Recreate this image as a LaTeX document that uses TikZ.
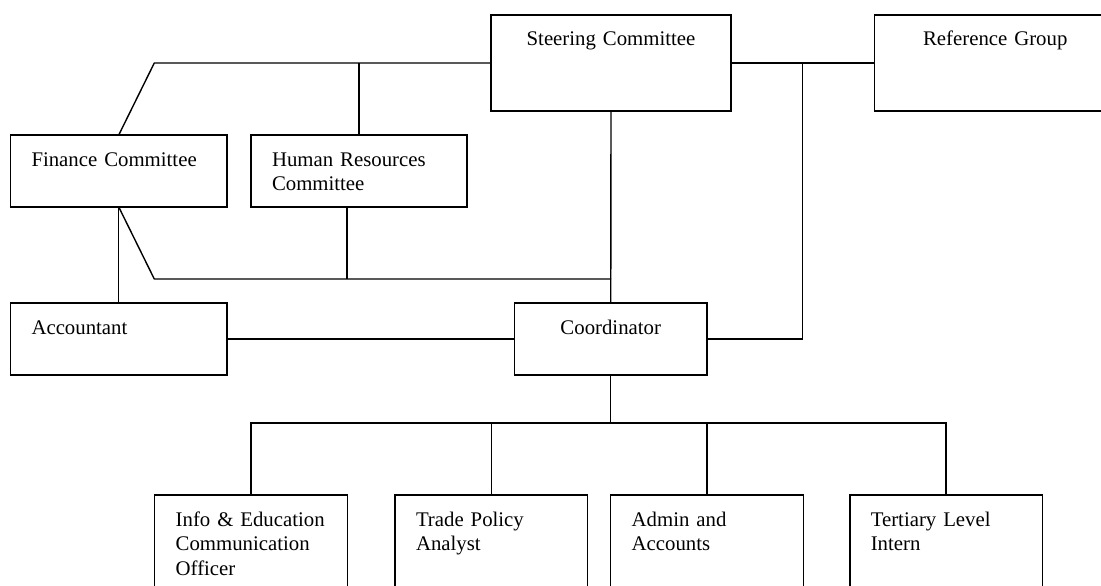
\documentclass[tikz,border=0pt]{standalone}
\usepackage{fontspec}
\setmainfont{Liberation Serif}
\usetikzlibrary{positioning}
\tikzstyle{unit} = [rectangle, draw, line width=1.4pt, anchor=north west, outer sep=0pt,
    inner xsep=21pt, inner ysep=0pt, text height=31pt, text depth=41pt,
    font=\fontsize{20.8pt}{24.5pt}\selectfont, align=left]
\tikzstyle{unitwide} = [unit, text depth=65pt, align=center]
\tikzstyle{unitlow} = [unit, text width=150.5pt, text depth=79pt]
\tikzstyle{link} = [draw, line width=1.4pt]

\begin{document}
\begin{tikzpicture}[x=1pt, y=-1pt, node distance=24pt]
    \useasboundingbox (0,0) rectangle (1101,586);
    % Place nodes
    \node [unitwide, text width=198pt] (steer) at (491,15) {Steering Committee};
    \node [unitwide, text width=199.5pt, right=143.5pt of steer] (ref) {Reference Group};
    \node [unit, text width=174.5pt] (fin) at (10.5,135) {Finance Committee};
    \node [unit, text width=174pt, right=of fin] (hr) {Human Resources\\Committee};
    \node [unit, text width=174.5pt, below=96pt of fin] (acct) {Accountant};
    \node [unit, text width=150.5pt, align=center] (coord) at (514.5,303) {Coordinator};
    \node [unitlow] (info) at (154.7,495) {Info \& Education\\Communication\\Officer};
    \node [unitlow, right=47.8pt of info] (trade) {Trade Policy\\Analyst};
    \node [unitlow, right=23.2pt of trade] (admin) {Admin and\\Accounts};
    \node [unitlow, right=46.6pt of admin] (tert) {Tertiary Level\\Intern};
    \coordinate (topfork) at (154.3,63);
    \coordinate (lowfork) at (154.3,279);
    \coordinate (refdrop) at (802.5,63);
    \coordinate (bus) at (0,423);
    % Draw edges
    \path [link] (steer.west) -- (topfork) -- (fin.north);
    \path [link] (hr.north) -- (hr.north |- topfork);
    \path [link] (steer.east) -- (ref.west);
    \path [link] (refdrop) |- (coord.east);
    \path [link] (steer.south) -- (coord.north);
    \path [link] (fin.south) -- (lowfork) -- (lowfork -| steer.south);
    \path [link] ([xshift=-12pt]hr.south) -- ([xshift=-12pt]hr.south |- lowfork);
    \path [link] (fin.south) -- (acct.north);
    \path [link] (acct.east) -- (coord.west);
    \path [link] (coord.south) -- (coord.south |- bus);
    \path [link] (info.north) |- (bus -| tert.north) -- (tert.north);
    \path [link] (trade.north) -- (trade.north |- bus);
    \path [link] (admin.north) -- (admin.north |- bus);
\end{tikzpicture}
\end{document}
